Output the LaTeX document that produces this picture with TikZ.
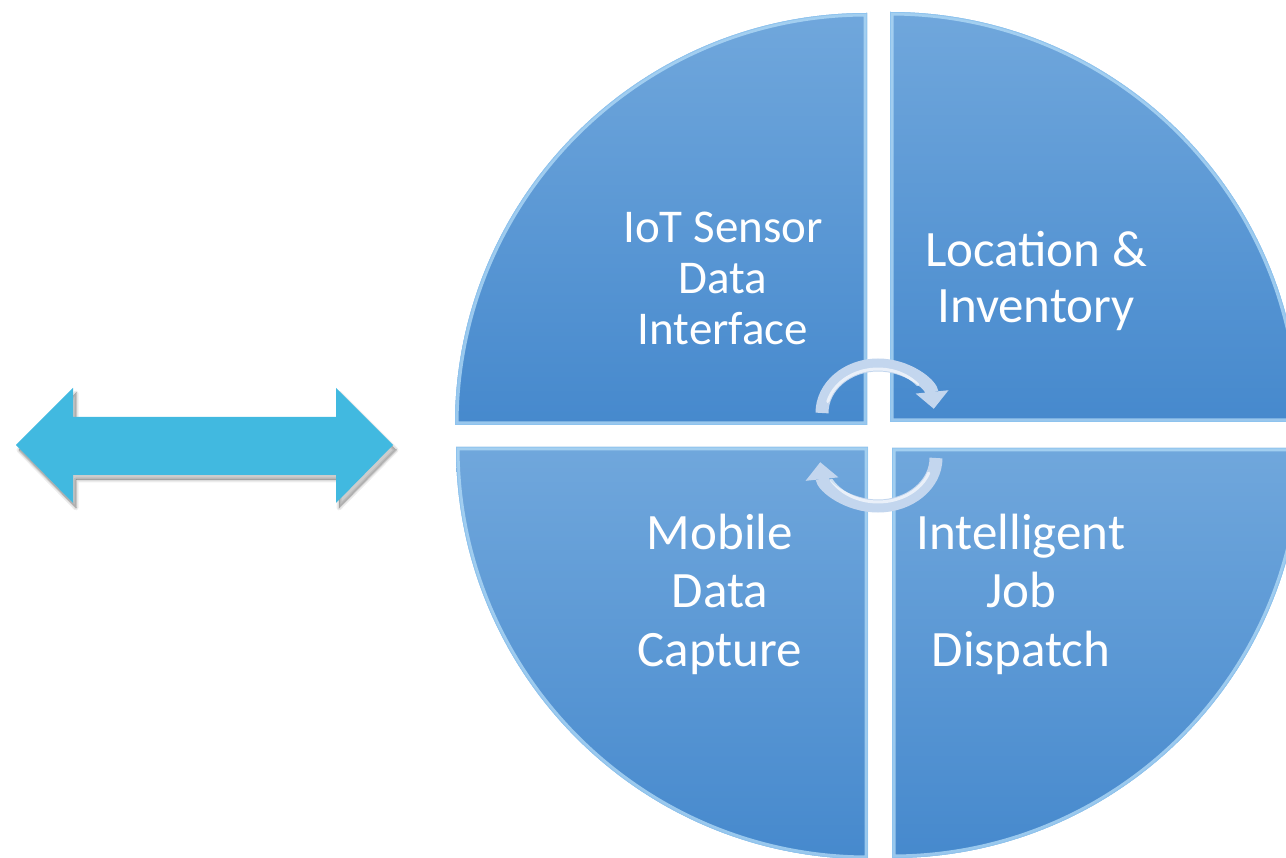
\documentclass[tikz,border=0pt]{standalone}
\usepackage{fontspec}
\setmainfont{Carlito}
\usetikzlibrary{arrows.meta}
\definecolor{qtop}{HTML}{70A7DC}
\definecolor{qbot}{HTML}{4689CD}
\definecolor{qedge}{HTML}{8EC3EE}
\definecolor{qbevel}{HTML}{B5DDF8}
\definecolor{dbl}{HTML}{41B9E0}
\definecolor{arrc}{HTML}{C3D6EE}
\newcommand\qTL{(867,425) -- ++(180:412) arc[start angle=180,end angle=270,radius=412] -- cycle}
\newcommand\qTR{(890,422) -- ++(270:410) arc[start angle=270,end angle=360,radius=410] -- cycle}
\newcommand\qBR{(892,448) -- ++(0:410) arc[start angle=0,end angle=90,radius=410] -- cycle}
\newcommand\qBL{(868,447) -- ++(90:412) arc[start angle=90,end angle=180,radius=412] -- cycle}
\newcommand\dblshape{(16,445) -- (73,388) -- (73,417) -- (336,417) -- (336,388) -- (393,445)
  -- (336,503) -- (336,475) -- (73,475) -- (73,503) -- cycle}
\begin{document}
\begin{tikzpicture}[x=1pt,y=-1pt,
  quad/.style={top color=qtop,bottom color=qbot},
  bevel/.style={draw=qbevel,line width=7pt,opacity=0.75,line join=round},
  rim/.style={draw=qedge,line width=1.5pt,line join=round},
  lblA/.style={text=white,align=center,font=\fontsize{47}{51}\selectfont,inner sep=0pt},
  lblB/.style={text=white,align=center,font=\fontsize{51}{56}\selectfont,inner sep=0pt},
  lblC/.style={text=white,align=center,font=\fontsize{51}{58.5}\selectfont,inner sep=0pt},
  softshadow/.style={fill=black,draw=black,opacity=0.07,line join=round},
  carr/.style={draw=arrc,line width=13pt,-{Triangle[width=32pt,length=17pt]}},
  shine/.style={draw=white,line width=3pt,opacity=0.65,line cap=round}
]
\useasboundingbox (0,0) rectangle (1286,858);
\fill[white] (0,0) rectangle (1286,858);

% quadrants
\foreach \q in {\qTL,\qTR,\qBR,\qBL}{
  \path[quad] \q;
  \begin{scope}
    \clip \q;
    \path[bevel] \q;
    \path[rim] \q;
  \end{scope}
}

% labels
\node[lblA] (iot) at (723,278) {IoT Sensor\\Data\\Interface};
\node[lblB] (loc) at (1036,281) {Location \&\\Inventory};
\node[lblC] (mob) at (720,594) {Mobile\\Data\\Capture};
\node[lblC] (job) at (1021,594) {Intelligent\\Job\\Dispatch};

% double arrow with soft shadow
\begin{scope}[shift={(3,5)}]
  \foreach \w in {5,2.5,0}{
    \path[softshadow,line width=\w pt] \dblshape;
  }
\end{scope}
\fill[dbl] \dblshape;

% circular arrows
\draw[carr] (878,413) ++(180:56 and 48) arc[start angle=180,end angle=355,x radius=56,y radius=48];
\draw[shine] (878,413) ++(195:52 and 44) arc[start angle=195,end angle=320,x radius=52,y radius=44];
\draw[carr] (878,458) ++(0:58 and 48) arc[start angle=0,end angle=175,x radius=58,y radius=48];
\draw[shine] (878,458) ++(20:54 and 44) arc[start angle=20,end angle=150,x radius=54,y radius=44];
\end{tikzpicture}
\end{document}
